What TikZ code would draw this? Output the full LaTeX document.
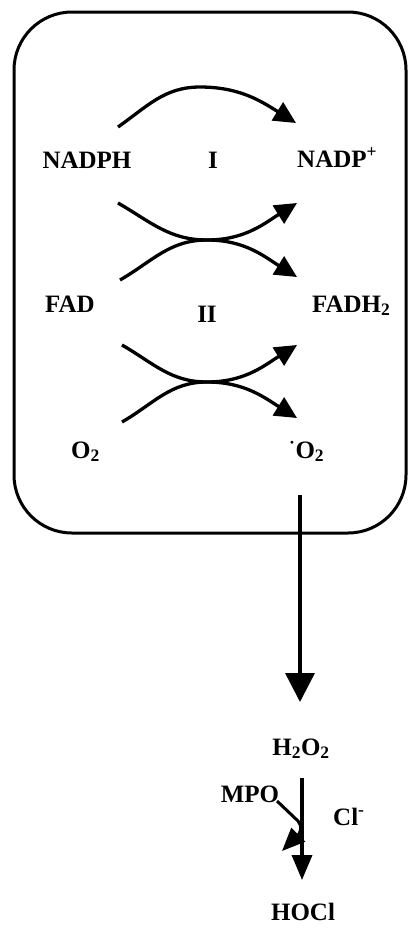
\documentclass[tikz,border=0pt]{standalone}
\usepackage{fontspec}
\setmainfont{Liberation Serif}
\usetikzlibrary{arrows.meta}
\begin{document}
\begin{tikzpicture}[x=1pt,y=-1pt,
  lbl/.style={font=\fontsize{25}{27}\selectfont\bfseries, inner sep=0pt, anchor=base},
  lblw/.style={lbl, anchor=base west},
  flow/.style={line width=3.3pt, -{Triangle[length=22pt,width=21pt]}},
  down/.style={line width=3.5pt, -{Triangle[length=29pt,width=29pt]}}]
\useasboundingbox (0,0) rectangle (409,930);
% membrane enzyme complex
\draw[line width=3pt, rounded corners=58pt] (14,12) rectangle (406,533);

% species
\node[lbl]  (nadph) at (87,168) {NADPH};
\node[lbl]  (one)   at (213,168) {I};
\node[lblw] (nadp)  at (297,167) {NADP\textsuperscript{+}};
\node[lbl]  (fad)   at (70,312) {FAD};
\node[lbl]  (two)   at (207,322) {II};
\node[lblw] (fadh)  at (312,312) {FADH\textsubscript{2}};
\node[lblw] (oxy)   at (71,458) {O\textsubscript{2}};
\node[lblw] (sup)   at (289,458) {\textsuperscript{·}O\textsubscript{2}};
\node[lbl]  (hp)    at (301,755) {H\textsubscript{2}O\textsubscript{2}};
\node[lbl]  (mpo)   at (250,802) {MPO};
\node[lblw] (cl)    at (333,825) {Cl\textsuperscript{-}};
\node[lbl]  (hocl)  at (303,920) {HOCl};

% arrow end points
\coordinate (a1) at (118,127);  \coordinate (b1) at (296,123);
\coordinate (a2) at (118,203);  \coordinate (b2) at (297,203);
\coordinate (a3) at (120,280);  \coordinate (b3) at (297,277);
\coordinate (x1) at (207,240);
\coordinate (a4) at (122,345);  \coordinate (b4) at (297,345);
\coordinate (a5) at (122,422);  \coordinate (b5) at (297,418);
\coordinate (x2) at (207,382);
\coordinate (s1) at (300,495);  \coordinate (t1) at (300,702);
\coordinate (s2) at (302,778);  \coordinate (t2) at (302,880);
\coordinate (m1) at (277,801);  \coordinate (m2) at (298,821);
\coordinate (m3) at (282,851);

% electron transfer steps
\draw[flow] (a1) to[out=35,in=180] (200,87) to[out=0,in=148] (b1);
\draw[flow] (a2) to[out=-30,in=180] (x1) to[out=0,in=212] (b2);
\draw[flow] (a3) to[out=30,in=180] (x1) to[out=0,in=148] (b3);
\draw[flow] (a4) to[out=-30,in=180] (x2) to[out=0,in=212] (b4);
\draw[flow] (a5) to[out=30,in=180] (x2) to[out=0,in=148] (b5);

% downstream products
\draw[down] (s1) -- (t1);
\draw[line width=3.5pt, -{Triangle[length=25pt,width=20pt]}] (s2) -- (t2);
\draw[line width=3pt, -{Triangle[length=23pt,width=19pt]}]
  (m1) -- (m2) to[out=-50,in=45] (m3);
\end{tikzpicture}
\end{document}
